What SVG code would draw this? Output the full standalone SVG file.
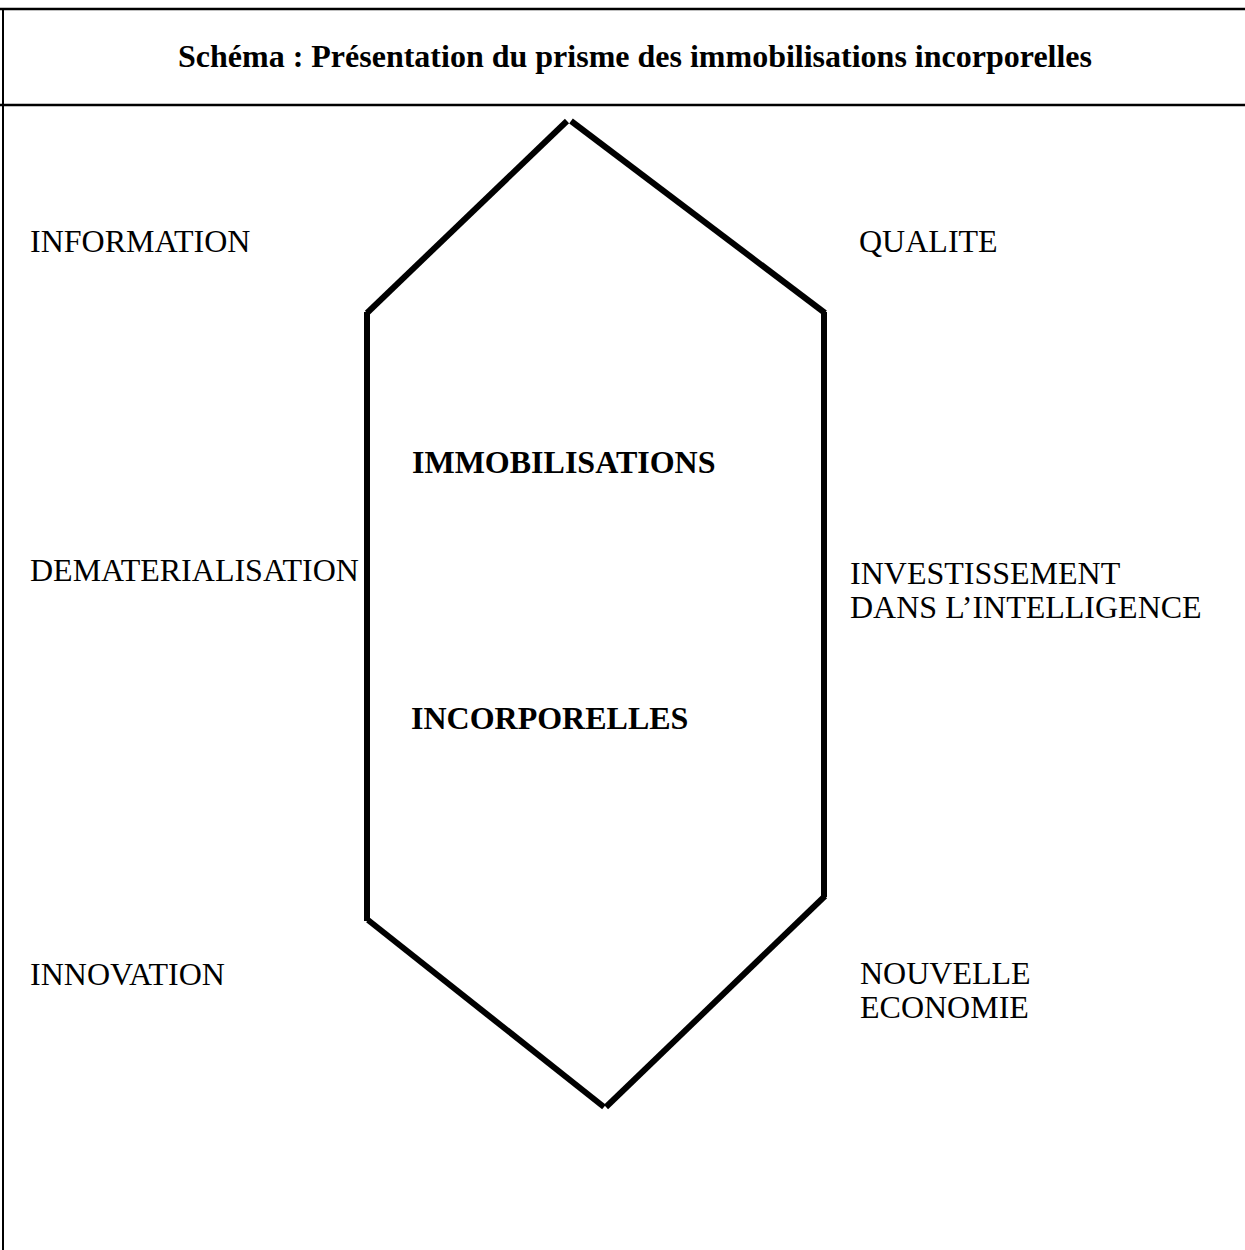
<svg xmlns="http://www.w3.org/2000/svg" width="1245" height="1250" viewBox="0 0 1245 1250">
<style>
.t{font-family:"Liberation Serif","Times New Roman",serif;font-size:32px;fill:#000}
.b{font-weight:bold}
.frame{stroke:#000;stroke-width:2.5;fill:none}
.edge{stroke:#000;stroke-width:6;fill:none;stroke-linecap:butt}
</style>
<rect width="1245" height="1250" fill="#fff"/>
<g id="frame">
<line class="frame" x1="0" y1="9" x2="1245" y2="9"/>
<line class="frame" x1="0" y1="105" x2="1245" y2="105"/>
<line x1="3" y1="8" x2="3" y2="1250" stroke="#000" stroke-width="2"/>
</g>
<g id="title"><text class="t b" x="635" y="67" text-anchor="middle">Schéma : Présentation du prisme des immobilisations incorporelles</text></g>
<g id="connectors">
<line class="edge" x1="567" y1="121" x2="367" y2="313"/>
<line class="edge" x1="571" y1="121" x2="825" y2="313"/>
<line class="edge" x1="367" y1="312" x2="367" y2="921"/>
<line class="edge" x1="824" y1="312" x2="824" y2="897"/>
<line class="edge" x1="368" y1="920" x2="604" y2="1107"/>
<line class="edge" x1="825" y1="896" x2="606" y2="1107"/>
</g>
<g id="information"><text class="t" x="30" y="252">INFORMATION</text></g>
<g id="qualite"><text class="t" x="859" y="252">QUALITE</text></g>
<g id="immobilisations"><text class="t b" x="412" y="473">IMMOBILISATIONS</text></g>
<g id="dematerialisation"><text class="t" x="30" y="581">DEMATERIALISATION</text></g>
<g id="investissement"><text class="t" x="850" y="584">INVESTISSEMENT</text><text class="t" x="850" y="618">DANS L’INTELLIGENCE</text></g>
<g id="incorporelles"><text class="t b" x="411" y="729">INCORPORELLES</text></g>
<g id="innovation"><text class="t" x="30" y="985">INNOVATION</text></g>
<g id="nouvelle"><text class="t" x="860" y="984">NOUVELLE</text><text class="t" x="860" y="1018">ECONOMIE</text></g>
</svg>
